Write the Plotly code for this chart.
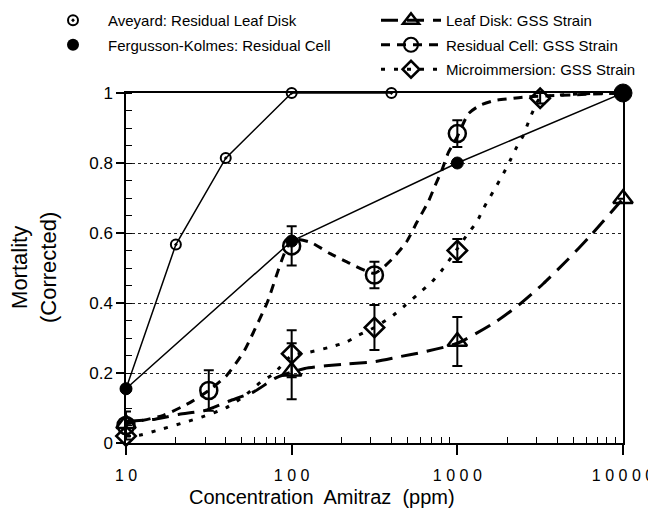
import plotly.graph_objects as go

# ---- measured points -------------------------------------------------------
aveyard_x = [10, 20, 40, 100, 400]
aveyard_y = [0.155, 0.567, 0.814, 1.0, 1.0]

fk_x = [10, 100, 1000, 10000]
fk_y = [0.155, 0.577, 0.80, 1.0]
fk_size = [12, 12, 12, 18]

leaf_x = [10, 100, 1000, 10000]
leaf_y = [0.055, 0.205, 0.29, 0.698]
leaf_err = [0, 0.08, 0.07, 0]

cell_x = [10, 31.6, 100, 316, 1000]
cell_y = [0.05, 0.15, 0.563, 0.48, 0.884]
cell_err = [0.04, 0.058, 0.056, 0.038, 0.038]

micro_x = [10, 100, 316, 1000, 3162]
micro_y = [0.02, 0.255, 0.33, 0.55, 0.985]
micro_err = [0, 0.067, 0.064, 0.033, 0.015]

# ---- fitted response curves ------------------------------------------------
leaf_fit_x = [10, 15, 21, 30, 42, 59, 81, 120, 215, 312, 441, 625, 1000,
              1690, 2400, 3300, 4600, 6300, 10000]
leaf_fit_y = [0.062, 0.068, 0.082, 0.093, 0.12, 0.146, 0.187, 0.213, 0.226,
              0.232, 0.246, 0.26, 0.285, 0.345, 0.398, 0.455, 0.522, 0.59, 0.698]

cell_fit_x = [10, 16.8, 24, 31.6, 40.5, 46.6, 52, 57, 71, 100, 129, 171, 225,
              316, 403, 494, 569, 669, 735, 806, 885, 1000, 1167, 1374, 1690,
              2083, 2600, 10000]
cell_fit_y = [0.055, 0.079, 0.114, 0.15, 0.193, 0.231, 0.265, 0.303, 0.40,
              0.58, 0.574, 0.541, 0.513, 0.485, 0.525, 0.575, 0.63, 0.69,
              0.736, 0.779, 0.831, 0.875, 0.941, 0.965, 0.979, 0.984, 0.989, 1.0]

micro_fit_x = [10, 12, 16.8, 23, 28.6, 40, 52, 65, 78, 100, 129, 171, 215,
               253, 316, 411, 484, 569, 700, 805, 1000, 1157, 1309, 1436, 1577,
               1730, 1898, 2083, 2285, 2506, 2687, 2880, 3162, 10000]
micro_fit_y = [0.02, 0.022, 0.041, 0.06, 0.074, 0.10, 0.135, 0.174, 0.198,
               0.25, 0.26, 0.274, 0.289, 0.308, 0.33, 0.365, 0.393, 0.422,
               0.46, 0.493, 0.555, 0.598, 0.631, 0.67, 0.703, 0.736, 0.77,
               0.807, 0.846, 0.879, 0.917, 0.951, 0.985, 1.0]

# ---- axis labels -----------------------------------------------------------
x_ticks = [10, 100, 1000, 10000]
x_ticktext = ["1 0", "1 0 0", "1 0 0 0", "1 0 0 0 0"]
y_ticks = [0, 0.2, 0.4, 0.6, 0.8, 1.0]
y_ticktext = ["0", "0.2", "0.4", "0.6", "0.8", "1"]

FONT = "Liberation Sans, Arial, Helvetica, sans-serif"
BLACK = "black"

LEAF_DASH = "17px,9px"
CELL_DASH = "9px,7px"
MICRO_DASH = "4px,9px"

W, H = 648, 510
M_L, M_R, M_T, M_B = 126, 25, 93, 67

fig = go.Figure()

# fitted curves (drawn underneath the markers)
fig.add_trace(go.Scatter(x=leaf_fit_x, y=leaf_fit_y, mode="lines",
                         line=dict(color=BLACK, width=3, dash=LEAF_DASH,
                                   shape="spline", smoothing=0.6),
                         showlegend=False, hoverinfo="skip"))
fig.add_trace(go.Scatter(x=cell_fit_x, y=cell_fit_y, mode="lines",
                         line=dict(color=BLACK, width=3, dash=CELL_DASH,
                                   shape="spline", smoothing=0.6),
                         showlegend=False, hoverinfo="skip"))
fig.add_trace(go.Scatter(x=micro_fit_x, y=micro_fit_y, mode="lines",
                         line=dict(color=BLACK, width=3, dash=MICRO_DASH,
                                   shape="spline", smoothing=0.6),
                         showlegend=False, hoverinfo="skip"))

# GSS strain observations with error bars
err_style = dict(type="data", color=BLACK, thickness=2, width=5)
fig.add_trace(go.Scatter(x=leaf_x, y=leaf_y, mode="markers",
                         marker=dict(symbol="triangle-up-open", size=17,
                                     color=BLACK, line=dict(width=2.5)),
                         error_y=dict(array=leaf_err, **err_style),
                         cliponaxis=False, showlegend=False))
fig.add_trace(go.Scatter(x=cell_x, y=cell_y, mode="markers",
                         marker=dict(symbol="circle-open", size=17,
                                     color=BLACK, line=dict(width=2.5)),
                         error_y=dict(array=cell_err, **err_style),
                         cliponaxis=False, showlegend=False))
fig.add_trace(go.Scatter(x=micro_x, y=micro_y, mode="markers",
                         marker=dict(symbol="diamond-open", size=15,
                                     color=BLACK, line=dict(width=2.5)),
                         error_y=dict(array=micro_err, **err_style),
                         cliponaxis=False, showlegend=False))

# published comparison series
fig.add_trace(go.Scatter(x=aveyard_x, y=aveyard_y, mode="lines+markers",
                         line=dict(color=BLACK, width=1.5),
                         marker=dict(symbol="circle-open-dot", size=10,
                                     color=BLACK, line=dict(width=2)),
                         cliponaxis=False, showlegend=False))
fig.add_trace(go.Scatter(x=fk_x, y=fk_y, mode="lines+markers",
                         line=dict(color=BLACK, width=1.5),
                         marker=dict(symbol="circle", size=fk_size, color=BLACK,
                                     opacity=1,
                                     line=dict(color=BLACK, width=1)),
                         cliponaxis=False, showlegend=False))

# legend entries
fig.add_trace(go.Scatter(x=[None], y=[None], mode="markers",
                         name="Aveyard: Residual Leaf Disk",
                         marker=dict(symbol="circle-open-dot", size=10,
                                     color=BLACK, line=dict(width=2)),
                         legend="legend", legendgroup="a"))
fig.add_trace(go.Scatter(x=[None], y=[None], mode="markers",
                         name="Fergusson-Kolmes: Residual Cell",
                         marker=dict(symbol="circle", size=12, color=BLACK),
                         legend="legend", legendgroup="b"))
fig.add_trace(go.Scatter(x=[None], y=[None], mode="lines+markers",
                         name="Leaf Disk: GSS Strain",
                         line=dict(color=BLACK, width=3, dash=LEAF_DASH),
                         marker=dict(symbol="triangle-up-open", size=14,
                                     color=BLACK, line=dict(width=2.5)),
                         legend="legend2", legendgroup="c"))
fig.add_trace(go.Scatter(x=[None], y=[None], mode="lines+markers",
                         name="Residual Cell: GSS Strain",
                         line=dict(color=BLACK, width=3, dash=CELL_DASH),
                         marker=dict(symbol="circle-open", size=14,
                                     color=BLACK, line=dict(width=2)),
                         legend="legend2", legendgroup="d"))
fig.add_trace(go.Scatter(x=[None], y=[None], mode="lines+markers",
                         name="Microimmersion: GSS Strain",
                         line=dict(color=BLACK, width=3, dash=MICRO_DASH),
                         marker=dict(symbol="diamond-open", size=13,
                                     color=BLACK, line=dict(width=2.5)),
                         legend="legend2", legendgroup="e"))

legend_common = dict(font=dict(family=FONT, size=15, color=BLACK),
                     bgcolor="rgba(0,0,0,0)", itemwidth=60,
                     tracegroupgap=2, xref="container", yref="container",
                     xanchor="left", yanchor="top")

plot_w = W - M_L - M_R
plot_h = H - M_T - M_B

# axis titles, placed in the margins
fig.add_annotation(text="Mortality<br>(Corrected)", textangle=-90,
                   xref="paper", yref="paper",
                   x=(34 - M_L) / plot_w, y=0.5,
                   xanchor="center", yanchor="middle", showarrow=False,
                   font=dict(family=FONT, size=22, color=BLACK))
fig.add_annotation(text="Concentration\u00a0 Amitraz\u00a0 (ppm)",
                   xref="paper", yref="paper",
                   x=(322 - M_L) / plot_w, y=-(497 - M_T - plot_h) / plot_h,
                   xanchor="center", yanchor="middle", showarrow=False,
                   font=dict(family=FONT, size=20, color=BLACK))

fig.update_layout(
    width=W, height=H,
    margin=dict(l=M_L, r=M_R, t=M_T, b=M_B, autoexpand=False),
    paper_bgcolor="white", plot_bgcolor="white",
    font=dict(family=FONT, color=BLACK),
    legend=dict(x=38 / W, y=1 - 4 / H, **legend_common),
    legend2=dict(x=376 / W, y=1 - 4 / H, **legend_common),
    xaxis=dict(
        type="log", range=[1, 4], automargin=False,
        tickmode="array", tickvals=x_ticks, ticktext=x_ticktext,
        tickfont=dict(family=FONT, size=16, color=BLACK),
        ticks="outside", ticklen=10, tickwidth=1.5, tickcolor=BLACK,
        ticklabelstandoff=7, ticklabeloverflow="allow",
        showline=True, linecolor=BLACK, linewidth=1.5, mirror=True,
        showgrid=False, zeroline=False,
        minor=dict(tickvals=[m * 10 ** k for k in (1, 2, 3) for m in range(2, 10)],
                   ticks="inside", ticklen=6, tickwidth=1, tickcolor=BLACK,
                   showgrid=False),
    ),
    yaxis=dict(
        range=[0, 1], automargin=False,
        tickvals=y_ticks, ticktext=y_ticktext,
        tickfont=dict(family=FONT, size=17, color=BLACK),
        ticks="outside", ticklen=8, tickwidth=1.5, tickcolor=BLACK,
        showline=True, linecolor=BLACK, linewidth=1.5, mirror=True,
        showgrid=True, griddash="dot", gridcolor="#222", gridwidth=1,
        zeroline=False,
        minor=dict(dtick=0.05, ticks="inside", ticklen=6, tickwidth=1,
                   tickcolor=BLACK, showgrid=False),
    ),
)

fig.write_html("out.html")
